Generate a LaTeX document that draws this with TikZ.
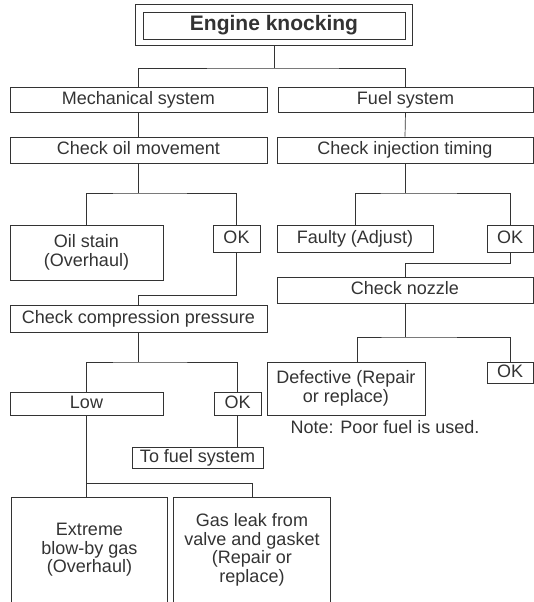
\documentclass[tikz,border=0pt]{standalone}
\usepackage{fontspec}
\setmainfont{Liberation Sans}
\usepackage{xcolor}
\usetikzlibrary{positioning, calc}
\definecolor{tinta}{HTML}{333333}

\tikzset{
  caja/.style={draw=tinta, line width=0.7pt, inner sep=0pt, align=center,
    text=tinta, font=\fontsize{18}{18.5}\selectfont},
  simple/.style={text height=13pt, text depth=4pt},
  abierta/.style={inner sep=0pt, align=center, text=tinta,
    font=\fontsize{18}{18.5}\selectfont},
  linea/.style={draw=tinta, line width=0.7pt}
}

\begin{document}
\begin{tikzpicture}[x=1pt, y=1pt]
    \useasboundingbox (0,0) rectangle (533,-602);
    % top
    \node[caja, minimum width=262pt, minimum height=27pt,
      font=\fontsize{21}{24}\selectfont\bfseries] (motor) at (274,-25.5) {Engine knocking};
    \draw[linea] ($(motor.south west)+(-7,-6)$) rectangle ($(motor.north east)+(7,7)$);
    \node[caja, simple, minimum width=257pt, minimum height=25pt] (mecanico) at (138.5,-99.5) {Mechanical system};
    \node[caja, simple, minimum width=255pt, minimum height=25pt] (combust) at (405.5,-99.5) {Fuel system};
    \coordinate (rama1) at (274,-68);
    \draw[linea] ($(motor.south)+(0,-6)$) -- (rama1);
    \draw[linea] (mecanico.north) |- (rama1) -| (combust.north);
    % mechanical side
    \node[caja, simple, minimum width=257pt, minimum height=26pt] (aceite) at (138.5,-150) {Check oil movement};
    \draw[linea] (mecanico.south) -- (aceite.north);
    \node[caja, minimum width=153pt, minimum height=55pt] (mancha) at (86.5,-252.5) {Oil stain\\(Overhaul)};
    \node[caja, simple, minimum width=47pt, minimum height=27pt] (okA) at (236.5,-238.5) {OK};
    \coordinate (rama2) at (138.5,-193);
    \draw[linea] (aceite.south) -- (rama2);
    \draw[linea] (mancha.north) |- (rama2) -| (okA.north);
    \node[caja, simple, minimum width=257pt, minimum height=27pt] (compres) at (138.5,-318.5) {Check compression pressure};
    \coordinate (codoA) at (138.5,-295);
    \draw[linea] (okA.south) |- (codoA) -- (compres.north);
    \node[caja, simple, minimum width=153pt, minimum height=23pt] (baja) at (86.5,-403.5) {Low};
    \node[caja, simple, minimum width=47pt, minimum height=23pt] (okB) at (237.5,-403.5) {OK};
    \coordinate (rama3) at (138.5,-362);
    \draw[linea] (compres.south) -- (rama3);
    \draw[linea] (baja.north) |- (rama3) -| (okB.north);
    \node[caja, simple, minimum width=131pt, minimum height=21pt] (alcomb) at (197.5,-457.5) {To fuel system};
    \draw[linea] (okB.south) -- (okB.south |- alcomb.north);
    % open boxes at the bottom
    \node[abierta, minimum width=155pt, minimum height=104pt] (soplado) at (89.5,-550) {Extreme\\blow-by gas\\(Overhaul)};
    \node[abierta, minimum width=156pt, minimum height=104pt] (fuga) at (252,-550) {Gas leak from\\valve and gasket\\(Repair or\\replace)};
    \draw[linea] (soplado.south west) -- (soplado.north west) -- (soplado.north east) -- (soplado.south east);
    \draw[linea] (fuga.south west) -- (fuga.north west) -- (fuga.north east) -- (fuga.south east);
    \coordinate (rama4) at (86.5,-483);
    \draw[linea] (baja.south) -- (baja.south |- soplado.north);
    \draw[linea] (rama4) -| (fuga.north);
    % fuel side
    \node[caja, simple, minimum width=256pt, minimum height=26pt] (inyecc) at (405,-150) {Check injection timing};
    \draw[linea] (combust.south) -- (inyecc.north);
    \node[caja, simple, minimum width=156pt, minimum height=27pt] (ajuste) at (355,-238.5) {Faulty (Adjust)};
    \node[caja, simple, minimum width=46pt, minimum height=27pt] (okC) at (510,-238.5) {OK};
    \coordinate (rama5) at (405,-193);
    \draw[linea] (inyecc.south) -- (rama5);
    \draw[linea] (ajuste.north) |- (rama5) -| (okC.north);
    \node[caja, simple, minimum width=256pt, minimum height=26pt] (tobera) at (405,-290) {Check nozzle};
    \coordinate (codoC) at (405,-263);
    \draw[linea] (okC.south) |- (codoC) -- (tobera.north);
    \node[caja, minimum width=158pt, minimum height=53pt] (defecto) at (346,-388.5) {Defective (Repair\\or replace)};
    \node[caja, simple, minimum width=46pt, minimum height=21pt] (okD) at (510,-372.5) {OK};
    \coordinate (rama6) at (405,-337);
    \draw[linea] (tobera.south) -- (rama6);
    \draw[linea] ([xshift=11pt]defecto.north) |- (rama6) -| (okD.north);
    \node[abierta] (nota) at (385,-427) {Note: Poor fuel is used.};
\end{tikzpicture}
\end{document}
